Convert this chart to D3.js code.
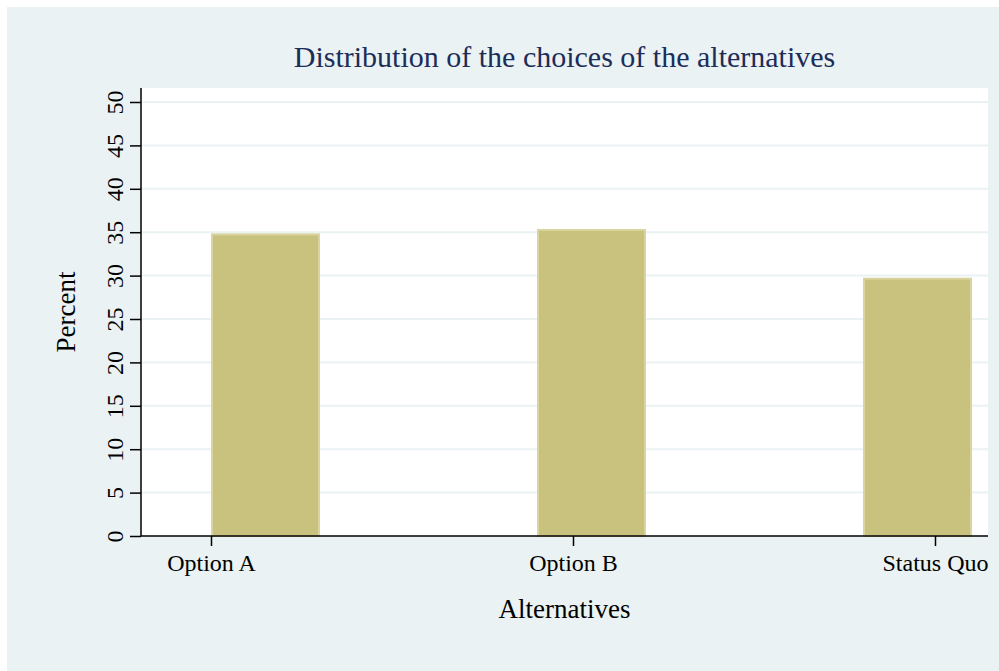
<!DOCTYPE html>
<html>
<head>
<meta charset="utf-8">
<script src="https://cdn.jsdelivr.net/npm/d3@7"></script>
<style>
  body { margin: 0; background: #fff; }
  svg { display: block; }
  text { font-family: "Liberation Serif", "DejaVu Serif", serif; }
</style>
</head>
<body>
<div id="chart"></div>
<script>
// Chart data.
const categories = ['Option A', 'Option B', 'Status Quo'];
const percents = [34.87, 35.37, 29.76];
const yTicks = [0, 5, 10, 15, 20, 25, 30, 35, 40, 45, 50];

const serif = '"Liberation Serif", "DejaVu Serif", serif';

// Visualization size.
const width = 999;
const height = 671;

const vis = d3.select('#chart')
  .append('svg')
  .attr('width', width)
  .attr('height', height);

// Outer (graph region) background.
vis.append('rect')
  .attr('x', 7)
  .attr('y', 7)
  .attr('width', width - 7)
  .attr('height', height - 7)
  .style('fill', '#eaf2f3');

// Plot region.
const plot = { left: 141, right: 988, top: 88, bottom: 536 };
vis.append('rect')
  .attr('x', plot.left)
  .attr('y', plot.top)
  .attr('width', plot.right - plot.left)
  .attr('height', plot.bottom - plot.top)
  .style('fill', '#fff');

const y = d3.scaleLinear()
  .domain([0, 50])
  .range([plot.bottom, 102]);

// Bars sit at evenly spaced positions, their labels on a separate point scale.
const xBar = d3.scaleLinear()
  .domain([0, categories.length - 1])
  .range([211, 863]);
const barWidth = 109;
const xTick = d3.scalePoint()
  .domain(categories)
  .range([211, 935]);

// Gridlines.
vis.append('g')
  .selectAll('line')
  .data(yTicks.filter(d => d > 0))
  .enter()
  .append('line')
  .attr('x1', plot.left)
  .attr('x2', plot.right)
  .attr('y1', d => y(d))
  .attr('y2', d => y(d))
  .style('stroke', '#eaf2f3')
  .style('stroke-width', 2);

// Bars.
vis.append('g')
  .selectAll('rect')
  .data(percents)
  .enter()
  .append('rect')
  .attr('x', (d, i) => xBar(i) + 1)
  .attr('y', d => y(d) + 1)
  .attr('width', barWidth - 2)
  .attr('height', d => y(0) - y(d) - 1)
  .style('fill', '#c9c27f')
  .style('stroke', '#d9d4a0')
  .style('stroke-width', 2);

// Y axis.
const yAxis = vis.append('g')
  .attr('transform', `translate(${plot.left}, 0)`)
  .call(d3.axisLeft(y).tickValues(yTicks).tickSize(11).tickPadding(0))
  .attr('font-family', serif);
yAxis.select('.domain')
  .attr('d', `M0,${plot.top}V${plot.bottom}`)
  .style('stroke', '#000')
  .style('stroke-width', 1.5);
yAxis.selectAll('.tick line').style('stroke-width', 1.5);
yAxis.selectAll('.tick text')
  .attr('x', 0)
  .attr('y', 0)
  .attr('dy', 0)
  .attr('transform', 'translate(-18, 0) rotate(-90)')
  .style('text-anchor', 'middle')
  .style('font-family', serif)
  .style('font-size', '24px')
  .style('fill', '#000');

// X axis.
const xAxis = vis.append('g')
  .attr('transform', `translate(0, ${plot.bottom})`)
  .call(d3.axisBottom(xTick).tickSize(10))
  .attr('font-family', serif);
xAxis.select('.domain')
  .attr('d', `M${plot.left},0H${plot.right}`)
  .style('stroke', '#000')
  .style('stroke-width', 1.5);
xAxis.selectAll('.tick line').style('stroke-width', 1.5);
xAxis.selectAll('.tick text')
  .attr('y', 35)
  .attr('dy', 0)
  .style('font-family', serif)
  .style('font-size', '24px')
  .style('fill', '#000');

// Titles.
vis.append('text')
  .text('Distribution of the choices of the alternatives')
  .attr('x', (plot.left + plot.right) / 2)
  .attr('y', 67)
  .style('text-anchor', 'middle')
  .style('font-size', '30px')
  .style('fill', '#1c2d59');

vis.append('text')
  .text('Percent')
  .attr('transform', `translate(75, ${(plot.top + plot.bottom) / 2}) rotate(-90)`)
  .style('text-anchor', 'middle')
  .style('font-size', '27px')
  .style('fill', '#000');

vis.append('text')
  .text('Alternatives')
  .attr('x', (plot.left + plot.right) / 2)
  .attr('y', 618)
  .style('text-anchor', 'middle')
  .style('font-size', '27px')
  .style('fill', '#000');
</script>
</body>
</html>
